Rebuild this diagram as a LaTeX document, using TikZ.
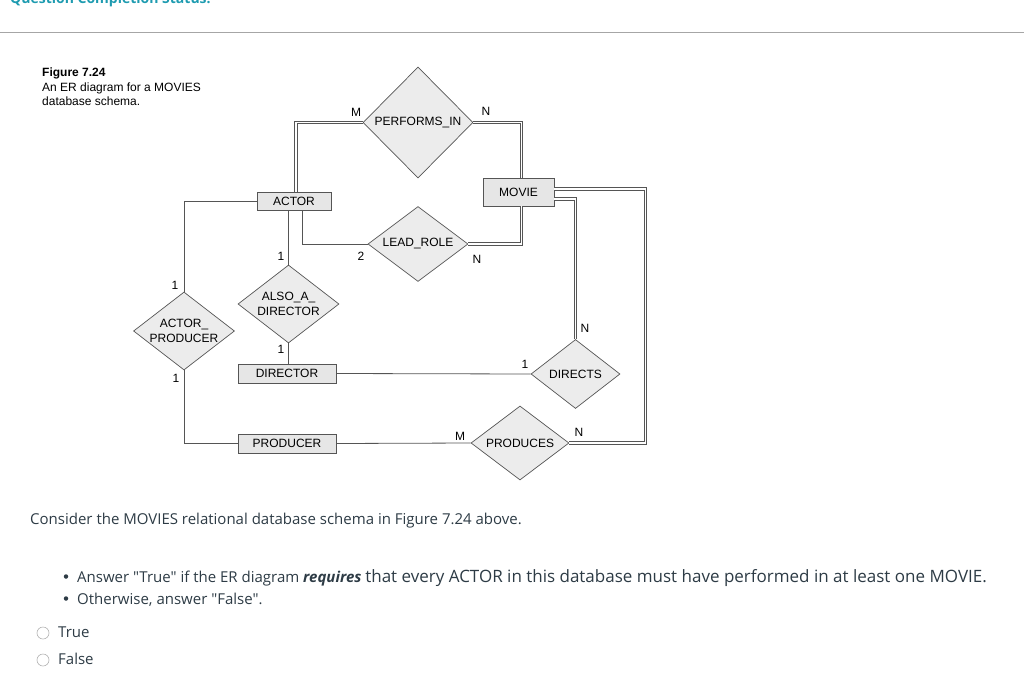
\documentclass[tikz,border=0pt]{standalone}
\usepackage{fontspec}
\setmainfont{Liberation Sans}
\newfontfamily\qfont{Open Sans}
\usetikzlibrary{shapes.geometric,positioning}

\definecolor{erline}{HTML}{555555}
\definecolor{erfill}{HTML}{E6E6E6}
\definecolor{relfill}{HTML}{ECECEC}
\definecolor{headteal}{HTML}{1E9BB0}
\definecolor{qtext}{HTML}{2D3B45}

\begin{document}
\begin{tikzpicture}[x=1pt,y=-1pt,
    entity/.style={draw=erline, fill=erfill, line width=0.8pt, inner sep=0pt,
        font=\fontsize{12}{14}\selectfont},
    rel/.style={diamond, draw=erline, fill=relfill, line width=0.7pt, inner sep=0pt,
        align=center, font=\fontsize{12}{15}\selectfont},
    link/.style={draw=erline, line width=0.8pt},
    total/.style={draw=erline, line width=0.9pt, double=white, double distance=1.4pt},
    card/.style={font=\fontsize{12}{13}\selectfont, inner sep=0pt},
    capline/.style={anchor=base west, inner sep=0pt, font=\fontsize{12}{14}\selectfont},
    qline/.style={anchor=base west, inner sep=0pt, text=qtext, font=\qfont\fontsize{15}{18}\selectfont},
    dot/.style={circle, fill=qtext, inner sep=0pt, minimum size=4.5pt},
    radio/.style={circle, draw=gray!60, line width=0.6pt, minimum size=12pt, inner sep=0pt}
]
    \useasboundingbox (0,0) rectangle (1024,693);

    % page header, cut off at the top
    \node[anchor=base west, inner sep=0pt, text=headteal,
        font=\qfont\bfseries\fontsize{14}{17}\selectfont] (status) at (10,3.5) {Question Completion Status:};
    \draw[gray!70, line width=0.8pt] (0,32) -- (1024,32);

    % caption
    \node[capline] (capa) at (42,77) {\textbf{Figure 7.24}};
    \node[capline] (capb) at (42,91) {An ER diagram for a MOVIES};
    \node[capline] (capc) at (42,105) {database schema.};

    % entities
    \node[entity, minimum width=74pt, minimum height=18pt] (actor) at (294,201.5) {ACTOR};
    \node[entity, minimum width=71pt, minimum height=28pt] (movie) at (518.5,192) {MOVIE};
    \node[entity, minimum width=98pt, minimum height=19pt] (director) at (287,373.5) {DIRECTOR};
    \node[entity, minimum width=98pt, minimum height=19pt] (producer) at (287,443.5) {PRODUCER};

    % relationships
    \node[rel, aspect=1, minimum width=110pt, minimum height=111pt] (performs) at (418,122.5) {PERFORMS\_IN};
    \node[rel, aspect=1.35, minimum width=100pt, minimum height=75pt] (leadrole) at (418,244) {LEAD\_ROLE};
    \node[rel, aspect=1.3, minimum width=101pt, minimum height=78pt] (alsodir) at (288.5,304) {ALSO\_A\_\\DIRECTOR};
    \node[rel, aspect=1.3, minimum width=101pt, minimum height=78pt] (actprod) at (184,331) {ACTOR\_\\PRODUCER};
    \node[rel, aspect=1.3, minimum width=89pt, minimum height=69pt] (directs) at (575.5,374) {DIRECTS};
    \node[rel, aspect=1.3, minimum width=98pt, minimum height=74pt] (produces) at (520,443) {PRODUCES};

    % connectors
    \draw[total] ([xshift=2pt]actor.north) |- (performs.west);
    \draw[total] (performs.east) -| ([xshift=3pt]movie.north);
    \draw[link] ([xshift=8pt]actor.south) |- (leadrole.west);
    \draw[total] (leadrole.east) -| ([xshift=3pt]movie.south);
    \draw[link] (alsodir.north |- actor.south) -- (alsodir.north);
    \draw[link] (alsodir.south) -- (director.north -| alsodir.south);
    \draw[link] (actor.west) -| (actprod.north);
    \draw[link] (actprod.south) |- (producer.west);
    \draw[link] (director.east) -- (directs.west);
    \draw[link] (producer.east) -- (produces.west);
    \draw[total] ([yshift=-7pt]movie.east) -| (directs.north);
    \draw[total] ([yshift=3pt]movie.east) -- ++(91,0) |- (produces.east);

    % cardinalities
    \node[card] (cpm) at (356,112) {M};
    \node[card] (cpn) at (486,111) {N};
    \node[card] (cla) at (281,256) {1};
    \node[card] (clb) at (361,256) {2};
    \node[card] (clm) at (477,259) {N};
    \node[card] (cpa) at (175,285) {1};
    \node[card] (cpb) at (176,378) {1};
    \node[card] (cad) at (281,349) {1};
    \node[card] (cdn) at (585,328) {N};
    \node[card] (cdd) at (525,364) {1};
    \node[card] (cpr) at (460,436) {M};
    \node[card] (cpo) at (579,432) {N};

    % question
    \node[qline] (consider) at (30,524) {Consider the MOVIES relational database schema in Figure 7.24 above.};
    \node[dot] (dota) at (66,576.5) {};
    \node[qline] (itema) at (77,582) {Answer "True" if the ER diagram \textbf{\textit{requires}}
        {\fontsize{17}{20}\selectfont that every ACTOR in this database must have performed in at least one MOVIE.}};
    \node[dot] (dotb) at (66,598.5) {};
    \node[qline] (itemb) at (77,604) {Otherwise, answer "False".};

    \node[radio] (rtrue) at (43,633) {};
    \node[qline] (ltrue) at (58,637) {True};
    \node[radio] (rfalse) at (43,660) {};
    \node[qline] (lfalse) at (58,664) {False};
\end{tikzpicture}
\end{document}
